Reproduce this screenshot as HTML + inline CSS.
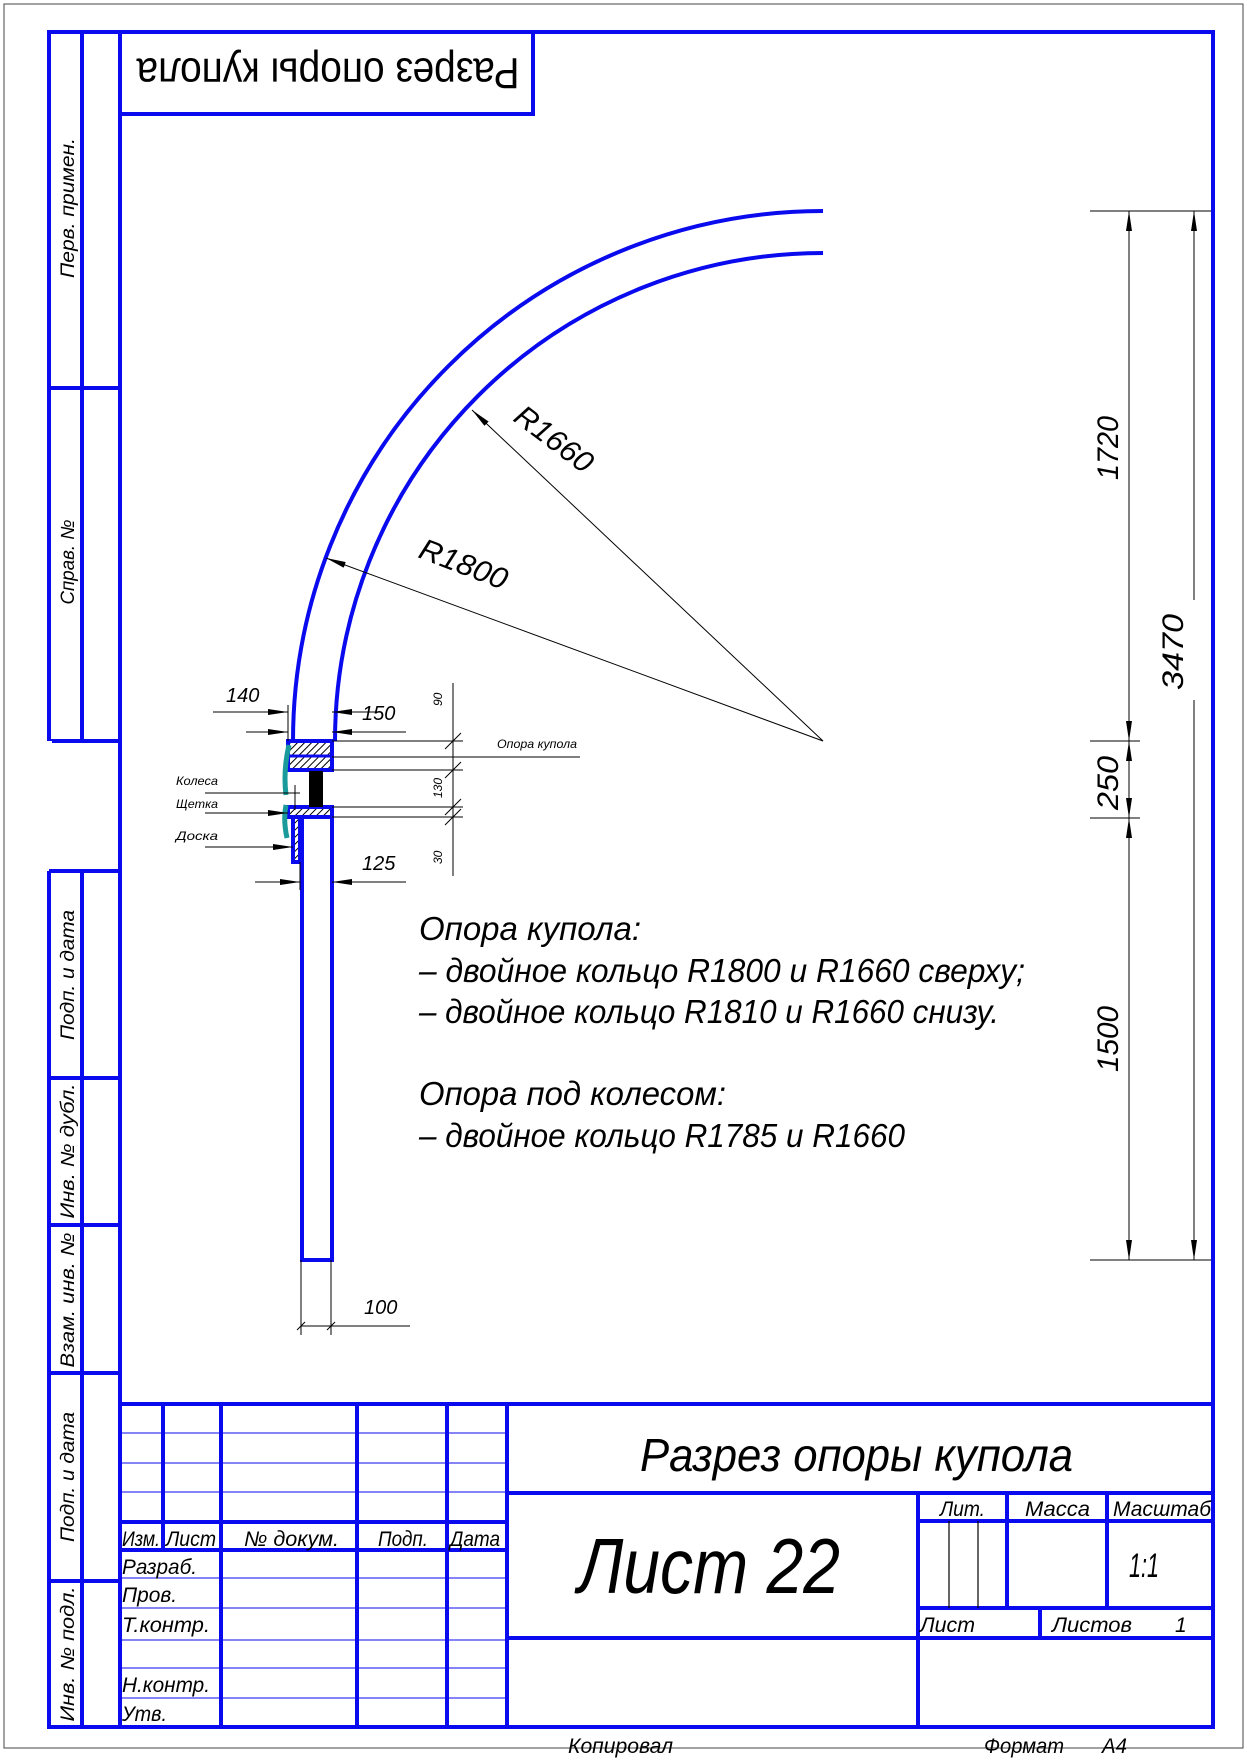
<!DOCTYPE html>
<html><head><meta charset="utf-8"><style>
html,body{margin:0;padding:0;background:#fff;}
svg{display:block;}
text{font-family:"Liberation Sans","DejaVu Sans",sans-serif;font-style:italic;fill:#000;}
</style></head><body>
<svg width="1247" height="1760" viewBox="0 0 1247 1760" xmlns="http://www.w3.org/2000/svg">
<defs>
<pattern id="h" width="5" height="5" patternUnits="userSpaceOnUse" patternTransform="rotate(45)">
<line x1="0" y1="0" x2="0" y2="5" stroke="#000" stroke-width="2"/></pattern>
<marker id="a" viewBox="0 0 20 6" refX="20" refY="3" markerWidth="20" markerHeight="6" markerUnits="userSpaceOnUse" orient="auto"><path d="M0,0 L20,3 L0,6 z" fill="#000"/></marker>
</defs>
<rect x="4" y="4" width="1239" height="1744" fill="none" stroke="#444" stroke-width="1"/>
<g stroke="#0a0aee" fill="none" stroke-width="4">
<rect x="49" y="32" width="1164" height="1695"/>
<line x1="120" y1="32" x2="120" y2="1727"/>
<line x1="82" y1="32" x2="82" y2="741"/>
<line x1="49" y1="388" x2="120" y2="388"/>
<line x1="49" y1="741" x2="120" y2="741"/>
<line x1="49" y1="741" x2="49" y2="871" stroke="#fff" stroke-width="6"/>
<line x1="82" y1="871" x2="82" y2="1727"/>
<line x1="49" y1="871" x2="120" y2="871"/>
<line x1="49" y1="1078" x2="120" y2="1078"/>
<line x1="49" y1="1225" x2="120" y2="1225"/>
<line x1="49" y1="1373" x2="120" y2="1373"/>
<line x1="49" y1="1581" x2="120" y2="1581"/>
<polyline points="120,114 533,114 533,32"/>
<!-- title block -->
<line x1="120" y1="1404" x2="1213" y2="1404"/>
<line x1="163" y1="1404" x2="163" y2="1550"/>
<line x1="221" y1="1404" x2="221" y2="1727"/>
<line x1="357" y1="1404" x2="357" y2="1727"/>
<line x1="447" y1="1404" x2="447" y2="1727"/>
<line x1="507" y1="1404" x2="507" y2="1727"/>
<line x1="120" y1="1522" x2="507" y2="1522"/>
<line x1="120" y1="1550" x2="507" y2="1550"/>
<line x1="507" y1="1493" x2="1213" y2="1493"/>
<line x1="507" y1="1638" x2="1213" y2="1638"/>
<line x1="918" y1="1493" x2="918" y2="1727"/>
<line x1="918" y1="1521" x2="1213" y2="1521"/>
<line x1="918" y1="1608" x2="1213" y2="1608"/>
<line x1="1007" y1="1493" x2="1007" y2="1608"/>
<line x1="1107" y1="1493" x2="1107" y2="1608"/>
<line x1="1040" y1="1608" x2="1040" y2="1638"/>
</g>
<g stroke="#0a0aee" stroke-width="1">
<line x1="120" y1="1433" x2="507" y2="1433"/>
<line x1="120" y1="1463" x2="507" y2="1463"/>
<line x1="120" y1="1492" x2="507" y2="1492"/>
<line x1="120" y1="1578" x2="507" y2="1578"/>
<line x1="120" y1="1608" x2="507" y2="1608"/>
<line x1="120" y1="1640" x2="507" y2="1640"/>
<line x1="120" y1="1668" x2="507" y2="1668"/>
<line x1="120" y1="1698" x2="507" y2="1698"/>
</g>
<g stroke="#000" stroke-width="1.2"><line x1="949" y1="1521" x2="949" y2="1608"/><line x1="978" y1="1521" x2="978" y2="1608"/></g>

<!-- side labels -->
<g font-size="19">
<text transform="translate(74,208) rotate(-90)" text-anchor="middle" textLength="140" lengthAdjust="spacingAndGlyphs">Перв. примен.</text>
<text transform="translate(74,562) rotate(-90)" text-anchor="middle" textLength="85" lengthAdjust="spacingAndGlyphs">Справ. №</text>
<text transform="translate(74,975) rotate(-90)" text-anchor="middle" textLength="130" lengthAdjust="spacingAndGlyphs">Подп. и дата</text>
<text transform="translate(74,1151) rotate(-90)" text-anchor="middle" textLength="135" lengthAdjust="spacingAndGlyphs">Инв. № дубл.</text>
<text transform="translate(74,1300) rotate(-90)" text-anchor="middle" textLength="135" lengthAdjust="spacingAndGlyphs">Взам. инв. №</text>
<text transform="translate(74,1477) rotate(-90)" text-anchor="middle" textLength="130" lengthAdjust="spacingAndGlyphs">Подп. и дата</text>
<text transform="translate(74,1654) rotate(-90)" text-anchor="middle" textLength="135" lengthAdjust="spacingAndGlyphs">Инв. № подл.</text>
</g>
<text transform="translate(328,70) rotate(180)" text-anchor="middle" dominant-baseline="middle" font-size="44" style="font-style:normal" textLength="383" lengthAdjust="spacingAndGlyphs">Разрез опоры купола</text>

<!-- title block text -->
<g font-size="21">
<text x="122" y="1546" textLength="38" lengthAdjust="spacingAndGlyphs">Изм.</text>
<text x="166" y="1546" textLength="50" lengthAdjust="spacingAndGlyphs">Лист</text>
<text x="244" y="1546" textLength="95" lengthAdjust="spacingAndGlyphs">№ докум.</text>
<text x="378" y="1546" textLength="50" lengthAdjust="spacingAndGlyphs">Подп.</text>
<text x="450" y="1546" textLength="50" lengthAdjust="spacingAndGlyphs">Дата</text>
<text x="122" y="1574" textLength="75" lengthAdjust="spacingAndGlyphs">Разраб.</text>
<text x="122" y="1602" textLength="55" lengthAdjust="spacingAndGlyphs">Пров.</text>
<text x="122" y="1632" textLength="88" lengthAdjust="spacingAndGlyphs">Т.контр.</text>
<text x="122" y="1692" textLength="88" lengthAdjust="spacingAndGlyphs">Н.контр.</text>
<text x="122" y="1721" textLength="45" lengthAdjust="spacingAndGlyphs">Утв.</text>
<text x="940" y="1516" textLength="45" lengthAdjust="spacingAndGlyphs">Лит.</text>
<text x="1025" y="1516" textLength="65" lengthAdjust="spacingAndGlyphs">Масса</text>
<text x="1113" y="1516" textLength="98" lengthAdjust="spacingAndGlyphs">Масштаб</text>
<text x="920" y="1632" textLength="55" lengthAdjust="spacingAndGlyphs">Лист</text>
<text x="1052" y="1632" textLength="80" lengthAdjust="spacingAndGlyphs">Листов</text>
<text x="1175" y="1632">1</text>
<text x="568" y="1753" textLength="105" lengthAdjust="spacingAndGlyphs">Копировал</text>
<text x="984" y="1753" textLength="80" lengthAdjust="spacingAndGlyphs">Формат</text>
<text x="1102" y="1753" textLength="25" lengthAdjust="spacingAndGlyphs">А4</text>
</g>
<text x="1144" y="1577" font-size="34" text-anchor="middle" textLength="30" lengthAdjust="spacingAndGlyphs">1:1</text>
<text x="640" y="1471" font-size="46" textLength="433" lengthAdjust="spacingAndGlyphs">Разрез опоры купола</text>
<text x="578" y="1593" font-size="78" textLength="262" lengthAdjust="spacingAndGlyphs">Лист 22</text>

<!-- drawing -->
<g stroke="#0a0aee" stroke-width="4" fill="none">
<path d="M293 741 A530 530 0 0 1 823 211"/>
<path d="M335 741 A488 488 0 0 1 823 253"/>
<rect x="288" y="741" width="44" height="29" fill="url(#h)"/>
<rect x="288" y="807" width="44" height="10" fill="url(#h)"/>
<rect x="302" y="817" width="30" height="443"/>
<rect x="293" y="817" width="7" height="45" fill="url(#h)"/>
</g>
<line x1="290" y1="756" x2="332" y2="756" stroke="#0a0aee" stroke-width="3"/>
<rect x="309" y="771" width="14" height="36" fill="#000"/>
<path d="M289 745 Q283 770 286 795 M286 805 Q283 820 287 838" stroke="#1a9a9a" stroke-width="5" fill="none"/>

<g stroke="#000" stroke-width="1" fill="none">
<!-- top dims -->
<line x1="213" y1="712" x2="288" y2="712" marker-end="url(#a)"/>
<line x1="380" y1="712" x2="332" y2="712" marker-end="url(#a)"/>
<line x1="246" y1="732" x2="288" y2="732" marker-end="url(#a)"/>
<line x1="406" y1="732" x2="332" y2="732" marker-end="url(#a)"/>
<line x1="288" y1="705" x2="288" y2="741"/>
<line x1="255" y1="882" x2="300" y2="882" marker-end="url(#a)"/>
<line x1="406" y1="882" x2="332" y2="882" marker-end="url(#a)"/>
<line x1="300" y1="862" x2="300" y2="890"/>
<!-- right small dims -->
<line x1="332" y1="741" x2="463" y2="741"/>
<line x1="332" y1="770" x2="463" y2="770"/>
<line x1="332" y1="807" x2="463" y2="807"/>
<line x1="332" y1="817" x2="463" y2="817"/>
<line x1="332" y1="757" x2="580" y2="757"/>
<line x1="453" y1="683" x2="453" y2="876"/>
<line x1="445" y1="749" x2="461" y2="733"/>
<line x1="445" y1="778" x2="461" y2="762"/>
<line x1="445" y1="815" x2="461" y2="799"/>
<line x1="445" y1="825" x2="461" y2="809"/>
<!-- labels leaders -->
<line x1="205" y1="793" x2="300" y2="793"/>
<line x1="295" y1="785" x2="295" y2="810"/>
<line x1="205" y1="813" x2="288" y2="813" marker-end="url(#a)"/>
<line x1="205" y1="847" x2="293" y2="847" marker-end="url(#a)"/>
<!-- 100 -->
<line x1="301" y1="1260" x2="301" y2="1335"/>
<line x1="331" y1="1260" x2="331" y2="1335"/>
<line x1="301" y1="1326" x2="410" y2="1326"/>
<line x1="297" y1="1330" x2="305" y2="1322"/>
<line x1="327" y1="1330" x2="335" y2="1322"/>
<!-- radii -->
<line x1="823" y1="741" x2="472" y2="410" marker-end="url(#a)"/>
<line x1="823" y1="741" x2="326" y2="558" marker-end="url(#a)"/>
<!-- big dims -->
<line x1="1090" y1="211" x2="1211" y2="211"/>
<line x1="1090" y1="741" x2="1140" y2="741"/>
<line x1="1090" y1="818" x2="1140" y2="818"/>
<line x1="1090" y1="1260" x2="1211" y2="1260"/>
<line x1="1129" y1="300" x2="1129" y2="211" marker-end="url(#a)"/>
<line x1="1129" y1="650" x2="1129" y2="741" marker-end="url(#a)"/>
<line x1="1129" y1="780" x2="1129" y2="741" marker-end="url(#a)"/>
<line x1="1129" y1="780" x2="1129" y2="818" marker-end="url(#a)"/>
<line x1="1129" y1="900" x2="1129" y2="818" marker-end="url(#a)"/>
<line x1="1129" y1="1180" x2="1129" y2="1260" marker-end="url(#a)"/>
<line x1="1194" y1="600" x2="1194" y2="211" marker-end="url(#a)"/>
<line x1="1194" y1="700" x2="1194" y2="1260" marker-end="url(#a)"/>
<line x1="1129" y1="300" x2="1129" y2="650"/><line x1="1129" y1="900" x2="1129" y2="1180"/>
</g>

<g font-size="20">
<text x="226" y="702">140</text>
<text x="362" y="720">150</text>
<text x="362" y="870">125</text>
<text x="364" y="1314">100</text>
</g>
<g font-size="12">
<text transform="translate(442,706) rotate(-90)">90</text>
<text transform="translate(442,798) rotate(-90)">130</text>
<text transform="translate(442,864) rotate(-90)">30</text>
<text x="497" y="748" textLength="80" lengthAdjust="spacingAndGlyphs">Опора купола</text>
<text x="176" y="785" textLength="42" lengthAdjust="spacingAndGlyphs">Колеса</text>
<text x="176" y="808" textLength="42" lengthAdjust="spacingAndGlyphs">Щетка</text>
<text x="176" y="840" textLength="42" lengthAdjust="spacingAndGlyphs">Доска</text>
</g>
<text transform="translate(512,420) rotate(37)" font-size="30" textLength="90" lengthAdjust="spacingAndGlyphs">R1660</text>
<text transform="translate(417,557) rotate(21)" font-size="30" textLength="92" lengthAdjust="spacingAndGlyphs">R1800</text>
<g font-size="30">
<text transform="translate(1118,480) rotate(-90)" textLength="64" lengthAdjust="spacingAndGlyphs">1720</text>
<text transform="translate(1118,810) rotate(-90)" textLength="54" lengthAdjust="spacingAndGlyphs">250</text>
<text transform="translate(1118,1072) rotate(-90)" textLength="66" lengthAdjust="spacingAndGlyphs">1500</text>
<text transform="translate(1183,690) rotate(-90)" textLength="76" lengthAdjust="spacingAndGlyphs">3470</text>
</g>
<g font-size="33">
<text x="419" y="940" textLength="222" lengthAdjust="spacingAndGlyphs">Опора купола:</text>
<text x="419" y="982" textLength="606" lengthAdjust="spacingAndGlyphs">– двойное кольцо R1800 и R1660 сверху;</text>
<text x="419" y="1023" textLength="580" lengthAdjust="spacingAndGlyphs">– двойное кольцо R1810 и R1660 снизу.</text>
<text x="419" y="1105" textLength="307" lengthAdjust="spacingAndGlyphs">Опора под колесом:</text>
<text x="419" y="1147" textLength="486" lengthAdjust="spacingAndGlyphs">– двойное кольцо R1785 и R1660</text>
</g>
</svg>
</body></html>
